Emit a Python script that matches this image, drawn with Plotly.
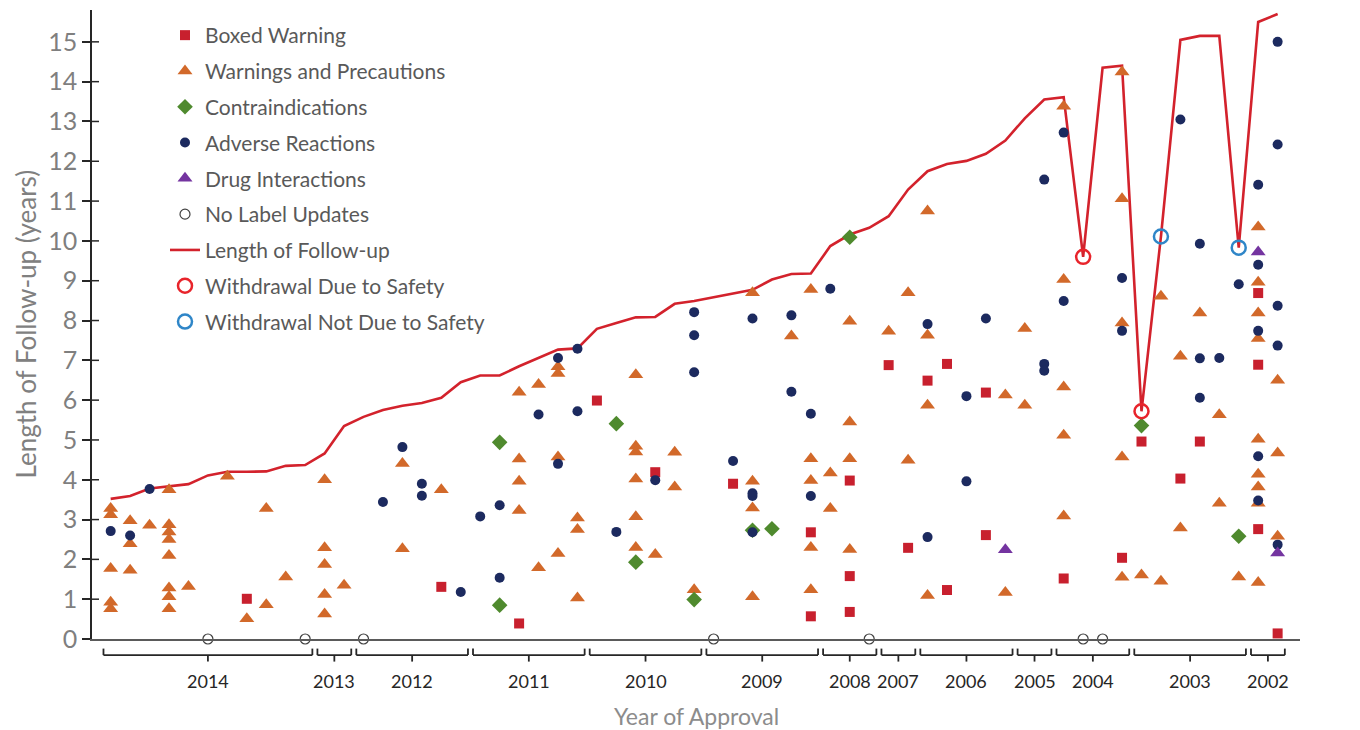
import plotly.graph_objects as go

# Year groups along the x axis (drugs are plotted in approval order, one slot each)
year_labels = ["2014", "2013", "2012", "2011", "2010", "2009", "2008",
               "2007", "2006", "2005", "2004", "2003", "2002"]
drugs_per_year = [11, 2, 6, 6, 6, 6, 3, 2, 5, 2, 4, 6, 2]

# Length of follow-up per drug (years)
follow_up = [3.52, 3.59, 3.78, 3.83, 3.89, 4.11, 4.20, 4.20, 4.21, 4.35,
             4.37, 4.66, 5.35, 5.58, 5.75, 5.86, 5.93, 6.06, 6.45, 6.62,
             6.62, 6.85, 7.06, 7.27, 7.30, 7.79, 7.94, 8.08, 8.09, 8.42,
             8.49, 8.58, 8.68, 8.77, 9.03, 9.17, 9.18, 9.87, 10.16, 10.33,
             10.62, 11.29, 11.75, 11.93, 12.01, 12.19, 12.52, 13.08, 13.55, 13.61,
             9.60, 14.35, 14.40, 5.72, 10.11, 15.05, 15.15, 15.15, 9.83, 15.50,
             15.70]

# Boxed warning label updates: drug slot and time to update (years)
boxed_drug = [7, 17, 21, 25, 28, 32, 36, 36, 38, 38, 38, 40, 41, 42, 43, 43,
              45, 45, 49, 52, 53, 55, 56, 59, 59, 59, 60]
boxed_time = [1.01, 1.31, 0.39, 5.99, 4.19, 3.90, 2.68, 0.57, 3.98, 1.58, 0.68,
              6.88, 2.29, 6.49, 6.91, 1.23, 6.19, 2.61, 1.52, 2.04, 4.96, 4.03,
              4.96, 8.69, 6.89, 2.76, 0.14]

# Warnings and precautions label updates
warn_drug = [0, 0, 0, 0, 0, 1, 1, 1, 2, 3, 3, 3, 3, 3, 3, 3, 3, 4, 6, 7, 8, 8, 9,
             11, 11, 11, 11, 11, 12, 15, 15, 17, 21, 21, 21, 21, 22, 22,
             23, 23, 23, 23, 24, 24, 24, 27, 27, 27, 27, 27, 27, 28, 29, 29, 30,
             33, 33, 33, 33, 35, 36, 36, 36, 36, 36, 37, 37, 38, 38, 38, 38,
             40, 41, 41, 42, 42, 42, 42, 46, 46, 47, 47, 49, 49, 49, 49, 49,
             52, 52, 52, 52, 52, 53, 54, 54, 55, 55, 56, 57, 57, 58,
             59, 59, 59, 59, 59, 59, 59, 59, 59, 60, 60, 60]
warn_time = [3.28, 3.12, 1.77, 0.92, 0.76, 2.97, 2.39, 1.73, 2.86,
             3.75, 2.87, 2.69, 2.50, 2.10, 1.28, 1.06, 0.76, 1.32, 4.09, 0.51,
             3.28, 0.86, 1.56,
             4.00, 2.29, 1.87, 1.12, 0.63, 1.35, 4.41, 2.27, 3.75,
             6.20, 4.52, 3.96, 3.23, 6.39, 1.79,
             6.84, 6.67, 4.57, 2.15, 3.04, 2.75, 1.03,
             6.64, 4.84, 4.70, 4.02, 3.07, 2.30, 2.12, 4.69, 3.82, 1.24,
             8.70, 3.96, 3.29, 1.06, 7.61, 8.78, 4.53, 3.98, 2.30, 1.24,
             4.17, 3.28, 7.98, 5.45, 4.53, 2.25,
             7.73, 8.70, 4.49, 10.75, 7.63, 5.87, 1.09, 6.13, 1.17, 7.80, 5.87,
             13.38, 9.03, 6.33, 5.12, 3.09,
             14.24, 11.06, 7.94, 4.57, 1.55, 1.61, 8.61, 1.45, 7.10, 2.79,
             8.19, 5.63, 3.41, 1.56,
             10.35, 8.96, 8.19, 7.55, 5.02, 4.14, 3.82, 3.41, 1.42,
             6.50, 4.67, 2.58]

# Contraindications label updates
contra_drug = [20, 20, 26, 27, 30, 33, 34, 38, 53, 58]
contra_time = [4.94, 0.85, 5.41, 1.93, 0.99, 2.73, 2.77, 10.09, 5.36, 2.58]

# Adverse reactions label updates
adverse_drug = [0, 1, 2, 14, 15, 16, 16, 18, 19, 20, 20, 22, 23, 23, 24, 24,
                26, 28, 30, 30, 30, 32, 33, 33, 33, 33, 35, 35, 36, 36, 37,
                42, 42, 44, 44, 45, 48, 48, 48, 49, 49, 52, 52, 55,
                56, 56, 56, 57, 58, 59, 59, 59, 59, 59, 60, 60, 60, 60, 60]
adverse_time = [2.71, 2.60, 3.77, 3.44, 4.82, 3.90, 3.60, 1.18, 3.08, 3.36, 1.54,
                5.64, 7.06, 4.40, 7.29, 5.72, 2.69, 3.99, 8.21, 7.63, 6.70,
                4.47, 8.05, 3.66, 3.59, 2.68, 8.13, 6.21, 5.66, 3.59, 8.80,
                7.91, 2.56, 6.10, 3.96, 8.05, 11.54, 6.91, 6.74, 12.72, 8.49,
                9.07, 7.74, 13.05, 9.93, 7.05, 6.06, 7.06, 8.91,
                11.41, 9.40, 7.74, 4.59, 3.48, 15.00, 12.42, 8.37, 7.37, 2.37]

# Drug interactions label updates
interact_drug = [46, 59, 60]
interact_time = [2.24, 9.72, 2.16]

# Drugs with no label updates, and market withdrawals
no_update_drug = [5, 10, 13, 31, 39, 50, 51]
withdrawn_safety_drug = [50, 53]
withdrawn_other_drug = [54, 58]

n_drugs = len(follow_up)
slots = list(range(n_drugs))

FONT = "Lato"
TEXT_GREY = "#595959"

fig = go.Figure()

fig.add_trace(go.Scatter(
    x=slots, y=follow_up, mode="lines", name="Length of Follow-up",
    line=dict(color="#D3222C", width=2.6), legendrank=7, legendgroup="g7"))

fig.add_trace(go.Scatter(
    x=boxed_drug, y=boxed_time, mode="markers", name="Boxed Warning",
    marker=dict(symbol="square", size=10, color="#C8202E"),
    legendrank=1, legendgroup="g1", cliponaxis=False))

fig.add_trace(go.Scatter(
    x=warn_drug, y=warn_time, mode="markers", name="Warnings and Precautions",
    marker=dict(symbol="triangle-up", size=13, color="#D2692A"),
    legendrank=2, legendgroup="g2", cliponaxis=False))

fig.add_trace(go.Scatter(
    x=contra_drug, y=contra_time, mode="markers", name="Contraindications",
    marker=dict(symbol="diamond", size=12, color="#4F8A2E"),
    legendrank=3, legendgroup="g3", cliponaxis=False))

fig.add_trace(go.Scatter(
    x=adverse_drug, y=adverse_time, mode="markers", name="Adverse Reactions",
    marker=dict(symbol="circle", size=10, color="#1C2A5F"),
    legendrank=4, legendgroup="g4", cliponaxis=False))

fig.add_trace(go.Scatter(
    x=interact_drug, y=interact_time, mode="markers", name="Drug Interactions",
    marker=dict(symbol="triangle-up", size=13, color="#7434A0"),
    legendrank=5, legendgroup="g5", cliponaxis=False))

fig.add_trace(go.Scatter(
    x=no_update_drug, y=[0] * len(no_update_drug), mode="markers",
    name="No Label Updates",
    marker=dict(symbol="circle-open", size=10, color="#404040",
                line=dict(width=1.2)),
    legendrank=6, legendgroup="g6", cliponaxis=False))

fig.add_trace(go.Scatter(
    x=withdrawn_safety_drug, y=[follow_up[i] for i in withdrawn_safety_drug],
    mode="markers", name="Withdrawal Due to Safety",
    marker=dict(symbol="circle-open", size=14, color="#E8242B",
                line=dict(width=2.5)),
    legendrank=8, legendgroup="g8", cliponaxis=False))

fig.add_trace(go.Scatter(
    x=withdrawn_other_drug, y=[follow_up[i] for i in withdrawn_other_drug],
    mode="markers", name="Withdrawal Not Due to Safety",
    marker=dict(symbol="circle-open", size=14, color="#2F86C8",
                line=dict(width=2.5)),
    legendrank=9, legendgroup="g9", cliponaxis=False))

# Pixel-based helpers for the area below the plot
PLOT_TOP, PLOT_BOTTOM = 10, 639.4
PLOT_H = PLOT_BOTTOM - PLOT_TOP
PLOT_W = 1208


def paper_y(pix):
    return (PLOT_BOTTOM - pix) / PLOT_H


shapes = []
annotations = []

# Year brackets under the axis
start = 0
for label, count in zip(year_labels, drugs_per_year):
    a, b = start, start + count - 1
    left, right = a - 0.37, b + 0.37
    mid = (a + b) / 2
    line_style = dict(color="#262626", width=1.8)
    shapes.append(dict(type="line", xref="x", yref="paper", x0=left, x1=right,
                       y0=paper_y(655.5), y1=paper_y(655.5), line=line_style))
    for xe in (left, right):
        shapes.append(dict(type="line", xref="x", yref="paper", x0=xe, x1=xe,
                           y0=paper_y(655.5), y1=paper_y(649.0), line=line_style))
    shapes.append(dict(type="line", xref="x", yref="paper", x0=mid, x1=mid,
                       y0=paper_y(655.5), y1=paper_y(662.0), line=line_style))
    annotations.append(dict(x=mid, y=paper_y(681), xref="x", yref="paper",
                            text=label, showarrow=False, xanchor="center",
                            yanchor="middle",
                            font=dict(family=FONT, size=18, color="#262626")))
    start += count

# Inner half of the crossing y-axis ticks
for v in range(1, 16):
    shapes.append(dict(type="line", xref="x domain", yref="y", x0=0, x1=7 / PLOT_W,
                       y0=v, y1=v, line=dict(color="#262626", width=1.5)))

annotations.append(dict(x=0.5, y=paper_y(716), xref="paper", yref="paper",
                        text="Year of Approval", showarrow=False,
                        xanchor="center", yanchor="middle",
                        font=dict(family=FONT, size=23, color="#8C8C8C")))

annotations.append(dict(x=(25 - 92) / PLOT_W, y=0.5, xref="paper", yref="paper",
                        text="Length of Follow-up (years)", showarrow=False,
                        textangle=-90, xanchor="center", yanchor="middle",
                        font=dict(family=FONT, size=26, color="#808080")))

fig.update_layout(
    width=1360, height=730,
    margin=dict(l=92, r=60, t=PLOT_TOP, b=730 - PLOT_BOTTOM, pad=0),
    plot_bgcolor="white", paper_bgcolor="white",
    font=dict(family=FONT, color=TEXT_GREY),
    showlegend=True,
    legend=dict(x=(165 - 92) / PLOT_W, y=paper_y(15), xanchor="left", yanchor="top",
                bgcolor="rgba(0,0,0,0)", font=dict(family=FONT, size=21, color=TEXT_GREY),
                traceorder="grouped", tracegroupgap=5.5, itemwidth=30),
    xaxis=dict(range=[-0.96, 61.15], showgrid=False, zeroline=False,
               showticklabels=False, ticks="", showline=True,
               linecolor="#5A5A5A", linewidth=2),
    yaxis=dict(range=[0, 15.8], tick0=0, dtick=1, showgrid=False, zeroline=False,
               ticks="outside", ticklen=8, tickwidth=1.5, tickcolor="#262626",
               showline=True, linecolor="#262626", linewidth=1.5,
               tickfont=dict(family=FONT, size=25, color="#7F7F7F")),
    shapes=shapes,
    annotations=annotations,
)

fig.write_html("out.html")
